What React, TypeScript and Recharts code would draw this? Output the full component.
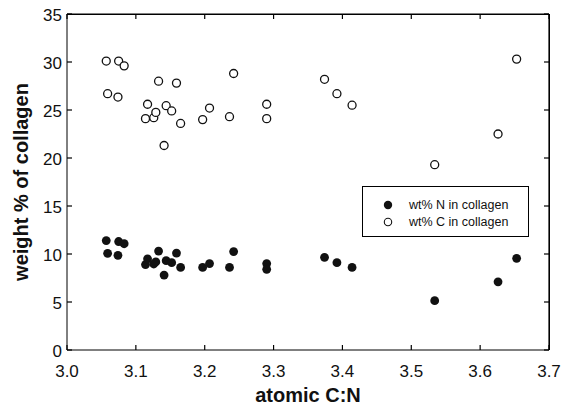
import { Label, ReferenceLine, Scatter, ScatterChart, XAxis, YAxis } from 'recharts';

const cnRatio = [
  3.057, 3.059, 3.075, 3.074, 3.083, 3.114, 3.117, 3.126, 3.129, 3.133, 3.141, 3.144, 3.152, 3.159,
  3.165, 3.197, 3.207, 3.236, 3.242, 3.29, 3.29, 3.374, 3.392, 3.414, 3.534, 3.626, 3.653,
];
const nitrogenWt = [
  11.4, 10.07, 11.3, 9.86, 11.07, 8.9, 9.5, 8.96, 9.17, 10.3, 7.8, 9.3, 9.1, 10.1, 8.6, 8.6, 9.0, 8.6,
  10.25, 9.0, 8.4, 9.65, 9.1, 8.6, 5.14, 7.1, 9.55,
];
const carbonWt = [
  30.1, 26.7, 30.1, 26.35, 29.6, 24.1, 25.6, 24.2, 24.75, 28.0, 21.3, 25.45, 24.9, 27.8, 23.6, 24.0,
  25.2, 24.3, 28.8, 25.6, 24.1, 28.2, 26.7, 25.5, 19.3, 22.5, 30.3,
];
const seriesNames = ['wt% N in collagen', 'wt% C in collagen'];
const xTicks = [3.0, 3.1, 3.2, 3.3, 3.4, 3.5, 3.6, 3.7];
const yTicks = [0, 5, 10, 15, 20, 25, 30, 35];

const nData = cnRatio.map((x, i) => ({ x, y: nitrogenWt[i] }));
const cData = cnRatio.map((x, i) => ({ x, y: carbonWt[i] }));

const FONT = '"Liberation Sans", Arial, Helvetica, sans-serif';
const INK = '#000';
const TICK = 5;
const GAP = 6;
const W = 570;
const H = 407;
const Y_AXIS_W = 67;
const MARGIN = { top: 14, right: 21, bottom: 27, left: 0 };
const PLOT_TOP = MARGIN.top;
const PLOT_RIGHT = W - MARGIN.right;

const filledDot = (p: any) => <circle cx={p.cx} cy={p.cy} r={4.4} fill="#111" />;
const openDot = (p: any) => <circle cx={p.cx} cy={p.cy} r={4} fill="#fff" stroke="#111" strokeWidth={1.3} />;

// ticks point inward, mirrored on the top and right edges of the frame
const BottomTick = (p: any) => (
  <g>
    <line x1={p.x} x2={p.x} y1={p.y - GAP} y2={p.y - GAP - TICK} stroke={INK} strokeWidth={1.2} />
    <line x1={p.x} x2={p.x} y1={PLOT_TOP} y2={PLOT_TOP + TICK} stroke={INK} strokeWidth={1.2} />
    <text x={p.x} y={p.y + 21} textAnchor="middle" fontSize={17} fill="#111" fontFamily={FONT}>
      {Number(p.payload.value).toFixed(1)}
    </text>
  </g>
);
const LeftTick = (p: any) => (
  <g>
    <line x1={p.x + GAP} x2={p.x + GAP + TICK} y1={p.y} y2={p.y} stroke={INK} strokeWidth={1.2} />
    <line x1={PLOT_RIGHT} x2={PLOT_RIGHT - TICK} y1={p.y} y2={p.y} stroke={INK} strokeWidth={1.2} />
    <text x={p.x + 1} y={p.y + 7} textAnchor="end" fontSize={17} fill="#111" fontFamily={FONT}>
      {p.payload.value}
    </text>
  </g>
);

const LegendBox = () => (
  <div
    style={{
      position: 'absolute',
      left: 362,
      top: 186,
      border: `1px solid ${INK}`,
      background: '#fff',
      width: 167,
      height: 51,
      boxSizing: 'border-box',
      fontFamily: FONT,
      fontSize: 12.5,
      color: '#111',
      paddingTop: 9,
    }}
  >
    {seriesNames.map((name, i) => (
      <div key={name} style={{ display: 'flex', alignItems: 'center', height: 17.5 }}>
        <svg width={46} height={12} style={{ flex: 'none' }}>
          <circle
            cx={25}
            cy={6}
            r={i === 0 ? 4.2 : 3.7}
            fill={i === 0 ? '#111' : '#fff'}
            stroke="#111"
            strokeWidth={i === 0 ? 0 : 1.1}
          />
        </svg>
        <span>{name}</span>
      </div>
    ))}
  </div>
);

export default function App() {
  return (
    <>
      <style>{'body{margin:0;background:#fff}'}</style>
      <div style={{ width: W, height: H, position: 'relative' }}>
        <ScatterChart width={W} height={H} margin={MARGIN}>
          <XAxis
            type="number"
            dataKey="x"
            domain={[3.0, 3.7]}
            ticks={xTicks}
            tickSize={0}
            tickMargin={GAP}
            tick={<BottomTick />}
            axisLine={{ stroke: INK }}
            height={30}
          >
            <Label
              value="atomic C:N"
              position="bottom"
              offset={0}
              dy={8}
              style={{ fontSize: 20, fontWeight: 'bold', fill: '#111', fontFamily: FONT }}
            />
          </XAxis>
          <YAxis
            type="number"
            dataKey="y"
            domain={[0, 35]}
            ticks={yTicks}
            tickSize={0}
            tickMargin={GAP}
            tick={<LeftTick />}
            axisLine={{ stroke: INK }}
            width={Y_AXIS_W}
          >
            <Label
              value="weight % of collagen"
              angle={-90}
              position="insideLeft"
              offset={21}
              style={{ fontSize: 20, fontWeight: 'bold', fill: '#111', fontFamily: FONT, textAnchor: 'middle' }}
            />
          </YAxis>
          <ReferenceLine x={3.7} stroke={INK} strokeWidth={1.2} ifOverflow="visible" />
          <ReferenceLine y={35} stroke={INK} strokeWidth={1.2} ifOverflow="visible" />
          <Scatter name={seriesNames[0]} data={nData} shape={filledDot} isAnimationActive={false} />
          <Scatter name={seriesNames[1]} data={cData} shape={openDot} isAnimationActive={false} />
        </ScatterChart>
        {/* top and right edges of the box frame */}
        <div
          style={{
            position: 'absolute',
            left: MARGIN.left + Y_AXIS_W,
            top: PLOT_TOP - 0.5,
            width: PLOT_RIGHT - MARGIN.left - Y_AXIS_W + 0.5,
            height: H - MARGIN.bottom - 30 - PLOT_TOP,
            borderTop: `1px solid ${INK}`,
            borderRight: `1px solid ${INK}`,
            boxSizing: 'border-box',
            pointerEvents: 'none',
          }}
        />
        <LegendBox />
      </div>
    </>
  );
}
